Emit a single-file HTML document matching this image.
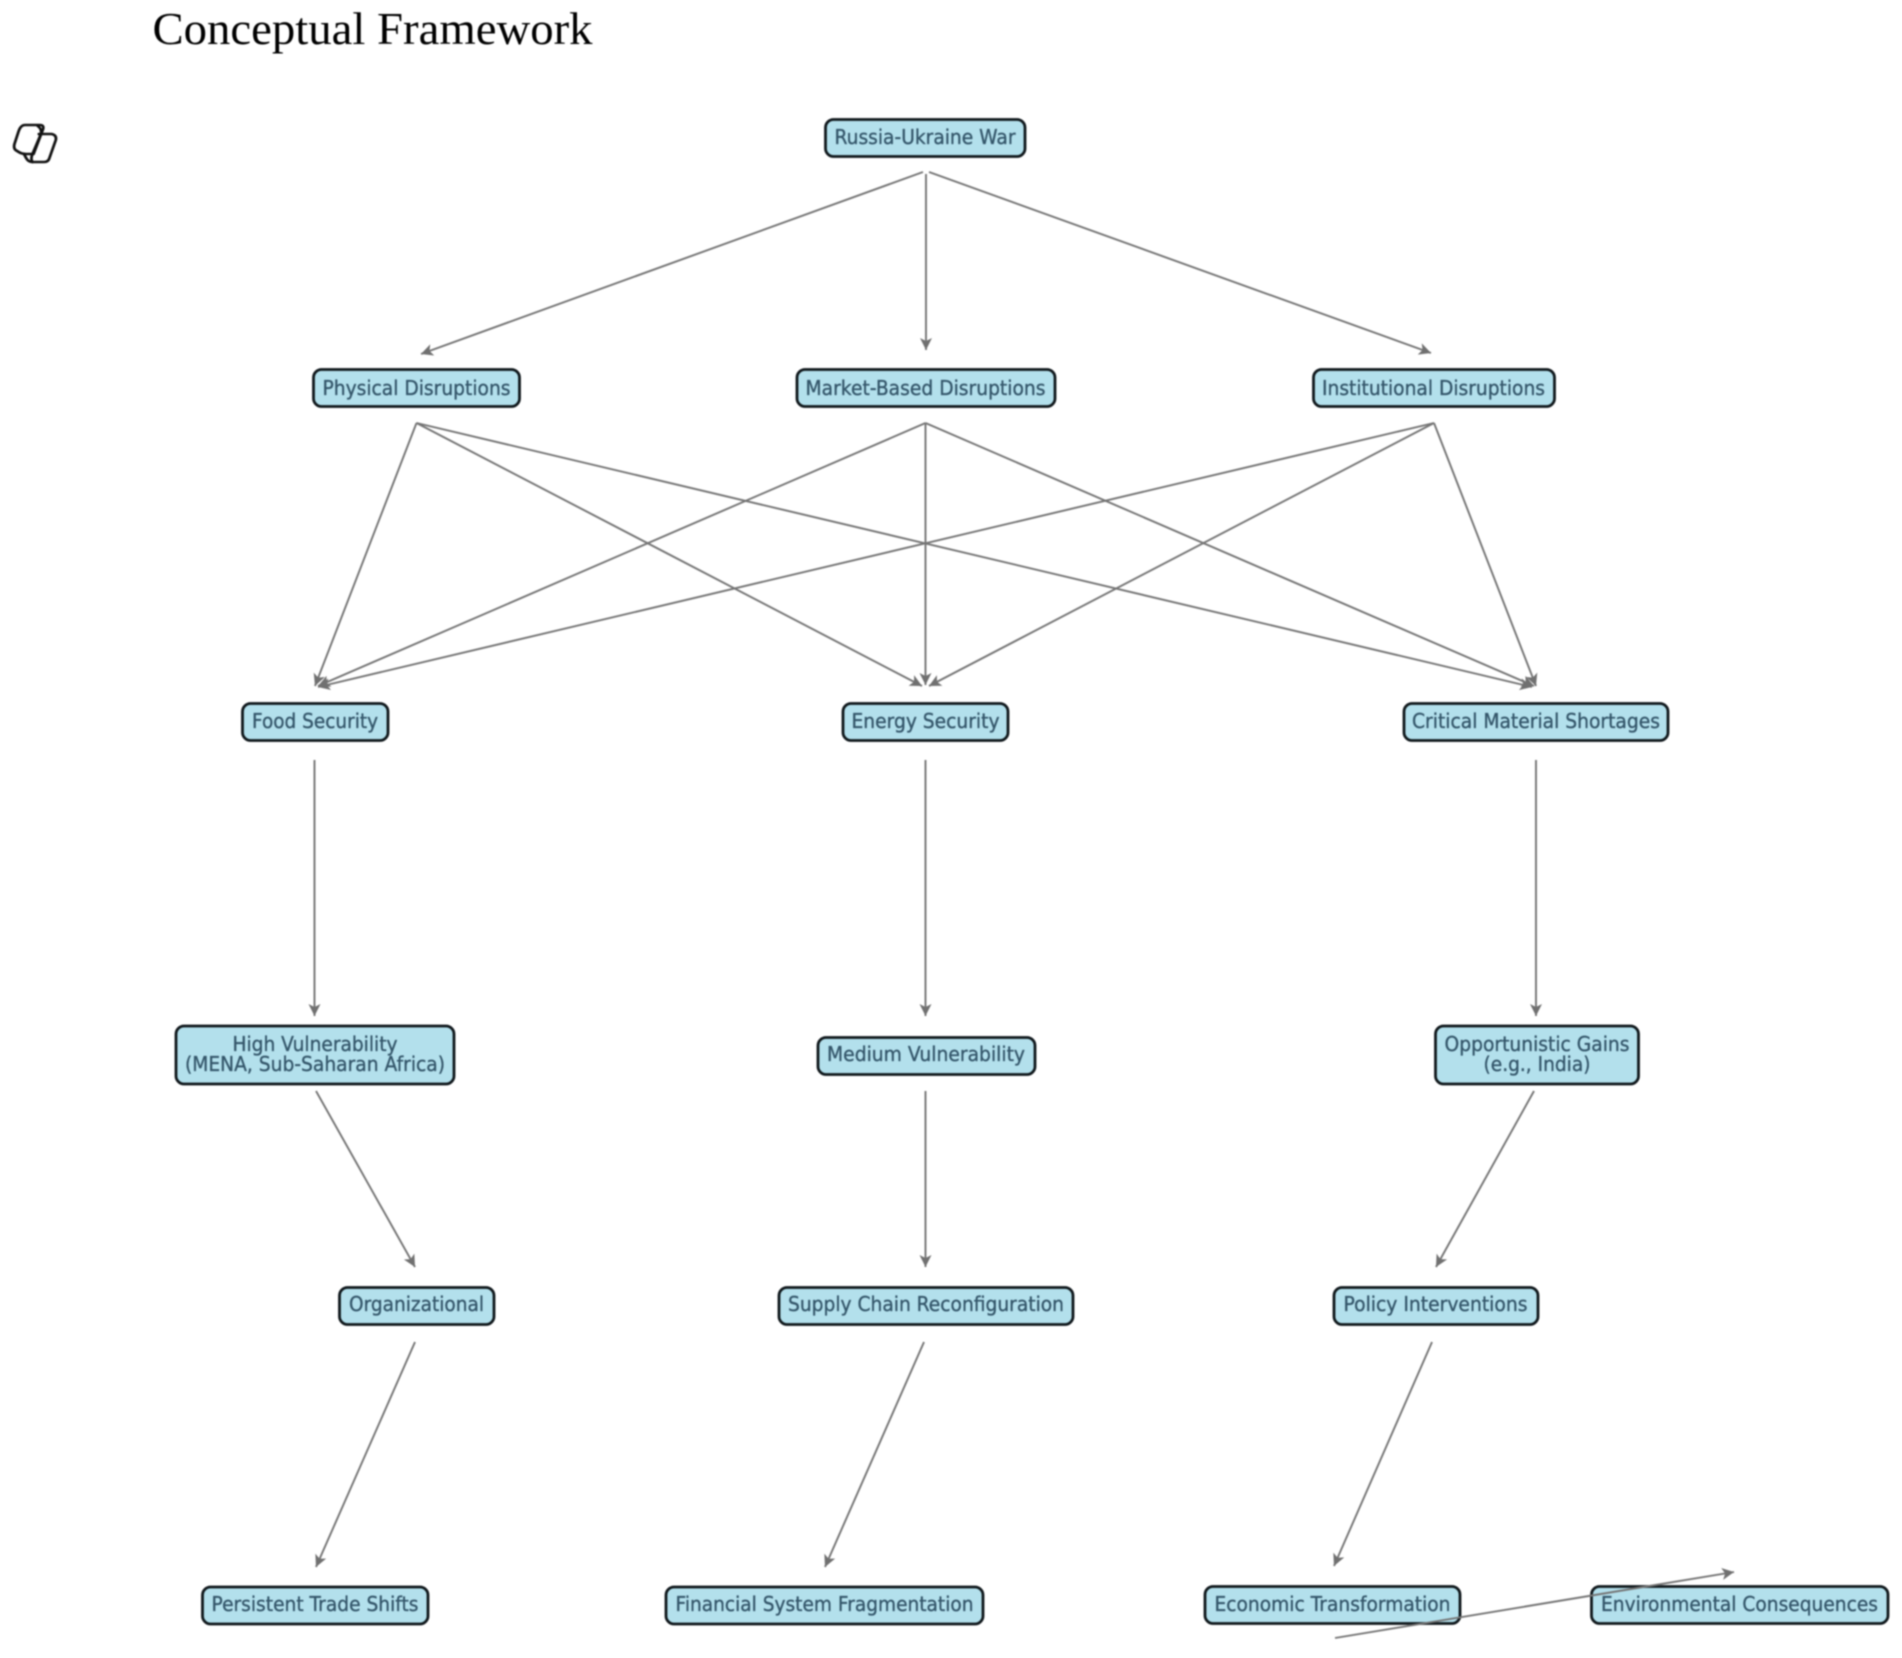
<!DOCTYPE html>
<html><head><meta charset="utf-8"><title>Conceptual Framework</title>
<style>
html,body{margin:0;padding:0;background:#fff;width:1902px;height:1658px;overflow:hidden}
svg{display:block;filter:blur(.7px)}
.b{fill:#b3e0ec;stroke:#10181c;stroke-width:2.8}
.t{font-family:"DejaVu Sans",sans-serif;font-size:20px;fill:#34566a;stroke:#34566a;stroke-width:.35;text-anchor:middle}
.a{stroke:#747474;stroke-width:1.9;fill:none;marker-end:url(#m)}
</style></head><body>
<svg width="1902" height="1658" viewBox="0 0 1902 1658" xmlns="http://www.w3.org/2000/svg">
<defs>
<marker id="m" markerUnits="userSpaceOnUse" markerWidth="16" markerHeight="14" refX="12" refY="6" orient="auto">
<path d="M0 0 L12 6 L0 12 L3 6 Z" fill="#707070"/>
</marker>
</defs>
<rect width="1902" height="1658" fill="#fff"/>
<text x="152.5" y="44" font-family="Liberation Serif,serif" font-size="46" fill="#000" textLength="440" lengthAdjust="spacingAndGlyphs">Conceptual Framework</text>
<g fill="none" stroke="#111" stroke-width="2.6" stroke-linejoin="round" stroke-linecap="round" transform="translate(-2.5 1) scale(1.06 1)">
<path d="M26 124 H40 Q44 124 43 128 L34 153 H27 Q23 153 20 151 L17 149 Q15 147 16 143 L20 130 Q22 124 26 124 Z"/>
<path d="M39 133 H51 Q56 134 55 139 L49 157 Q48 161 44 161 H33 Q29 161 27 157 L25 153"/>
<path d="M38 125 Q42 128 41 133 L33 153 Q31 158 33 161"/>
</g>
<g>
<line class="a" x1="923" y1="172" x2="421" y2="354"/>
<line class="a" x1="926" y1="174" x2="926" y2="350"/>
<line class="a" x1="929" y1="172" x2="1431" y2="353"/>
<line class="a" x1="416.5" y1="423" x2="315" y2="686"/>
<line class="a" x1="416.5" y1="423" x2="922" y2="686"/>
<line class="a" x1="416.5" y1="423" x2="1532" y2="687"/>
<line class="a" x1="925.5" y1="423" x2="318" y2="686"/>
<line class="a" x1="925.5" y1="423" x2="925.5" y2="685"/>
<line class="a" x1="925.5" y1="423" x2="1534" y2="686"/>
<line class="a" x1="1434" y1="423" x2="318" y2="687"/>
<line class="a" x1="1434" y1="423" x2="929" y2="686"/>
<line class="a" x1="1434" y1="423" x2="1536" y2="686"/>
<line class="a" x1="314.5" y1="760" x2="314.5" y2="1016"/>
<line class="a" x1="925.5" y1="760" x2="925.5" y2="1016"/>
<line class="a" x1="1536" y1="760" x2="1536" y2="1016"/>
<line class="a" x1="316" y1="1091" x2="415" y2="1267"/>
<line class="a" x1="925.5" y1="1091" x2="925.5" y2="1267"/>
<line class="a" x1="1534" y1="1091" x2="1436" y2="1267"/>
<line class="a" x1="415" y1="1342" x2="316" y2="1567"/>
<line class="a" x1="924" y1="1342" x2="825" y2="1567"/>
<line class="a" x1="1432" y1="1342" x2="1334" y2="1566"/>
</g>
<g>
<rect class="b" x="825.5" y="119.5" width="199.5" height="37" rx="8"/>
<rect class="b" x="313.5" y="369.5" width="206" height="37" rx="8"/>
<rect class="b" x="797" y="369.5" width="258" height="37" rx="8"/>
<rect class="b" x="1313.5" y="369.5" width="241" height="37" rx="8"/>
<rect class="b" x="242.5" y="703.5" width="145.5" height="37" rx="8"/>
<rect class="b" x="843" y="703.5" width="165" height="37" rx="8"/>
<rect class="b" x="1404" y="703.5" width="264" height="37" rx="8"/>
<rect class="b" x="176" y="1026" width="278" height="58" rx="8"/>
<rect class="b" x="818" y="1037.5" width="217" height="37" rx="8"/>
<rect class="b" x="1435.5" y="1026" width="203" height="58" rx="8"/>
<rect class="b" x="339.5" y="1287.5" width="154.5" height="37" rx="8"/>
<rect class="b" x="779" y="1287.5" width="294" height="37" rx="8"/>
<rect class="b" x="1334" y="1287.5" width="204" height="37" rx="8"/>
<rect class="b" x="202.5" y="1587" width="225.5" height="37" rx="8"/>
<rect class="b" x="666" y="1587" width="317" height="37" rx="8"/>
<rect class="b" x="1205" y="1586.5" width="255" height="37" rx="8"/>
<rect class="b" x="1591.5" y="1586.5" width="296.5" height="37" rx="8"/>
</g>
<line class="a" x1="1335" y1="1638" x2="1734" y2="1572"/>
<g>
<text class="t" x="925" y="144" textLength="181" lengthAdjust="spacingAndGlyphs">Russia-Ukraine War</text>
<text class="t" x="416.5" y="395" textLength="188" lengthAdjust="spacingAndGlyphs">Physical Disruptions</text>
<text class="t" x="925.5" y="395" textLength="240" lengthAdjust="spacingAndGlyphs">Market-Based Disruptions</text>
<text class="t" x="1433.5" y="395" textLength="223" lengthAdjust="spacingAndGlyphs">Institutional Disruptions</text>
<text class="t" x="315" y="728" textLength="126" lengthAdjust="spacingAndGlyphs">Food Security</text>
<text class="t" x="925.5" y="728" textLength="148" lengthAdjust="spacingAndGlyphs">Energy Security</text>
<text class="t" x="1536" y="728" textLength="248" lengthAdjust="spacingAndGlyphs">Critical Material Shortages</text>
<text class="t" x="315" y="1051" textLength="165" lengthAdjust="spacingAndGlyphs">High Vulnerability</text>
<text class="t" x="315" y="1071" textLength="260" lengthAdjust="spacingAndGlyphs">(MENA, Sub-Saharan Africa)</text>
<text class="t" x="926" y="1061" textLength="198" lengthAdjust="spacingAndGlyphs">Medium Vulnerability</text>
<text class="t" x="1537" y="1051" textLength="185" lengthAdjust="spacingAndGlyphs">Opportunistic Gains</text>
<text class="t" x="1537" y="1071" textLength="107" lengthAdjust="spacingAndGlyphs">(e.g., India)</text>
<text class="t" x="416.5" y="1311" textLength="135" lengthAdjust="spacingAndGlyphs">Organizational</text>
<text class="t" x="926" y="1311" textLength="276" lengthAdjust="spacingAndGlyphs">Supply Chain Reconfiguration</text>
<text class="t" x="1435.5" y="1311" textLength="184" lengthAdjust="spacingAndGlyphs">Policy Interventions</text>
<text class="t" x="315" y="1611" textLength="207" lengthAdjust="spacingAndGlyphs">Persistent Trade Shifts</text>
<text class="t" x="824.5" y="1611" textLength="298" lengthAdjust="spacingAndGlyphs">Financial System Fragmentation</text>
<text class="t" x="1332.5" y="1611" textLength="236" lengthAdjust="spacingAndGlyphs">Economic Transformation</text>
<text class="t" x="1739.5" y="1611" textLength="277" lengthAdjust="spacingAndGlyphs">Environmental Consequences</text>
</g>
</svg>
</body></html>
